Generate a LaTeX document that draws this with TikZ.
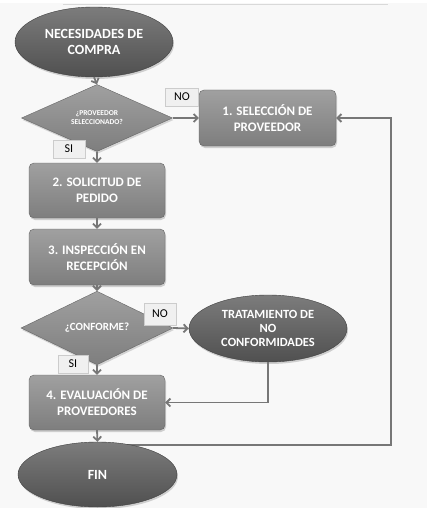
\documentclass[tikz,border=0pt]{standalone}
\usepackage{fontspec}
\setsansfont{Carlito}
\usetikzlibrary{shapes.geometric,arrows.meta,shadows}

\definecolor{fondo}{HTML}{F8F8F8}
\definecolor{linea}{HTML}{777777}
\definecolor{elipsearriba}{HTML}{7C7C7C}
\definecolor{elipseabajo}{HTML}{505050}
\definecolor{cajaarriba}{HTML}{A0A0A0}
\definecolor{cajaabajo}{HTML}{7E7E7E}

\begin{document}
\begin{tikzpicture}[x=1pt,y=-1pt,
  font=\sffamily\bfseries,
  inicio/.style={ellipse,draw=elipseabajo!80!black,top color=elipsearriba,bottom color=elipseabajo,
    text=white,align=center,inner sep=0pt,font=\sffamily\bfseries\fontsize{14}{16}\selectfont,
    drop shadow={opacity=0.35,shadow xshift=1pt,shadow yshift=-2pt}},
  paso/.style={rectangle,rounded corners=5pt,draw=cajaabajo!80!black,top color=cajaarriba,bottom color=cajaabajo,
    text=white,align=center,inner sep=0pt,font=\sffamily\bfseries\fontsize{13}{16}\selectfont,
    drop shadow={opacity=0.35,shadow xshift=1pt,shadow yshift=-2pt}},
  pregunta/.style={diamond,draw=cajaabajo!80!black,top color=cajaarriba,bottom color=cajaabajo,
    text=white,align=center,inner sep=0pt,
    drop shadow={opacity=0.3,shadow xshift=1pt,shadow yshift=-2pt}},
  etiqueta/.style={rectangle,draw=black!20,fill=black!6,text=black,inner sep=0pt,
    font=\sffamily\fontsize{12}{13}\selectfont},
  flecha/.style={draw=linea,line width=1.8pt,-{Straight Barb[length=4pt,width=8pt]}}]

  %% Background
  \fill[fondo] (0,0) rectangle (427,508);
  \fill[white] (0,0) rectangle (427,3.5);
  \draw[black!15,line width=0.8pt] (63,4) -- (388,4);

  %% Left column
  \node[inicio,minimum width=158,minimum height=70] (necesidades) at (94,42)
    {NECESIDADES DE\\COMPRA};
  \node[pregunta,minimum width=151,minimum height=67,font=\sffamily\bfseries\fontsize{7.5}{9}\selectfont]
    (proveedor) at (97,118) {¿PROVEEDOR\\SELECCIONADO?};
  \node[paso,minimum width=136,minimum height=55] (solicitud) at (97,190.5)
    {2. SOLICITUD DE\\PEDIDO};
  \node[paso,minimum width=136,minimum height=56] (inspeccion) at (97,257)
    {3. INSPECCIÓN EN\\RECEPCIÓN};
  \node[pregunta,minimum width=152,minimum height=67,font=\sffamily\bfseries\fontsize{11}{13}\selectfont]
    (conforme) at (97,328) {¿CONFORME?};
  \node[paso,minimum width=136,minimum height=55] (evaluacion) at (97,402.5)
    {4. EVALUACIÓN DE\\PROVEEDORES};

  %% Right column
  \node[paso,minimum width=137,minimum height=56] (seleccion) at (267.5,118)
    {1. SELECCIÓN DE\\PROVEEDOR};
  \node[inicio,minimum width=158,minimum height=67,font=\sffamily\bfseries\fontsize{12.5}{14}\selectfont]
    (tratamiento) at (268,328.5) {TRATAMIENTO DE\\NO\\CONFORMIDADES};

  %% Return path to supplier selection
  \coordinate (salida) at (97,445);
  \coordinate (retorno) at (391,445);
  \draw[flecha] (salida) -- (retorno) |- (seleccion.east);

  \node[inicio,minimum width=159,minimum height=65] (fin) at (97.5,474.5) {FIN};

  %% Connectors
  \draw[flecha] (necesidades.south) -- (proveedor.north);
  \draw[flecha] (proveedor.east) -- (seleccion.west);
  \draw[flecha] (proveedor.south) -- (solicitud.north);
  \draw[flecha] (solicitud.south) -- (inspeccion.north);
  \draw[flecha] (inspeccion.south) -- (conforme.north);
  \draw[flecha] (conforme.east) -- (tratamiento.west);
  \draw[flecha] (conforme.south) -- (evaluacion.north);
  \draw[flecha] (tratamiento.south) |- (evaluacion.east);
  \draw[flecha] (evaluacion.south) -- (fin.north);

  %% Answer labels
  \node[etiqueta,minimum width=33,minimum height=18] (no1) at (182,97) {NO};
  \node[etiqueta,minimum width=32,minimum height=18] (si1) at (69,149) {SI};
  \node[etiqueta,minimum width=32,minimum height=22] (no2) at (160,314) {NO};
  \node[etiqueta,minimum width=30,minimum height=18] (si2) at (73,364) {SI};

\end{tikzpicture}
\end{document}
